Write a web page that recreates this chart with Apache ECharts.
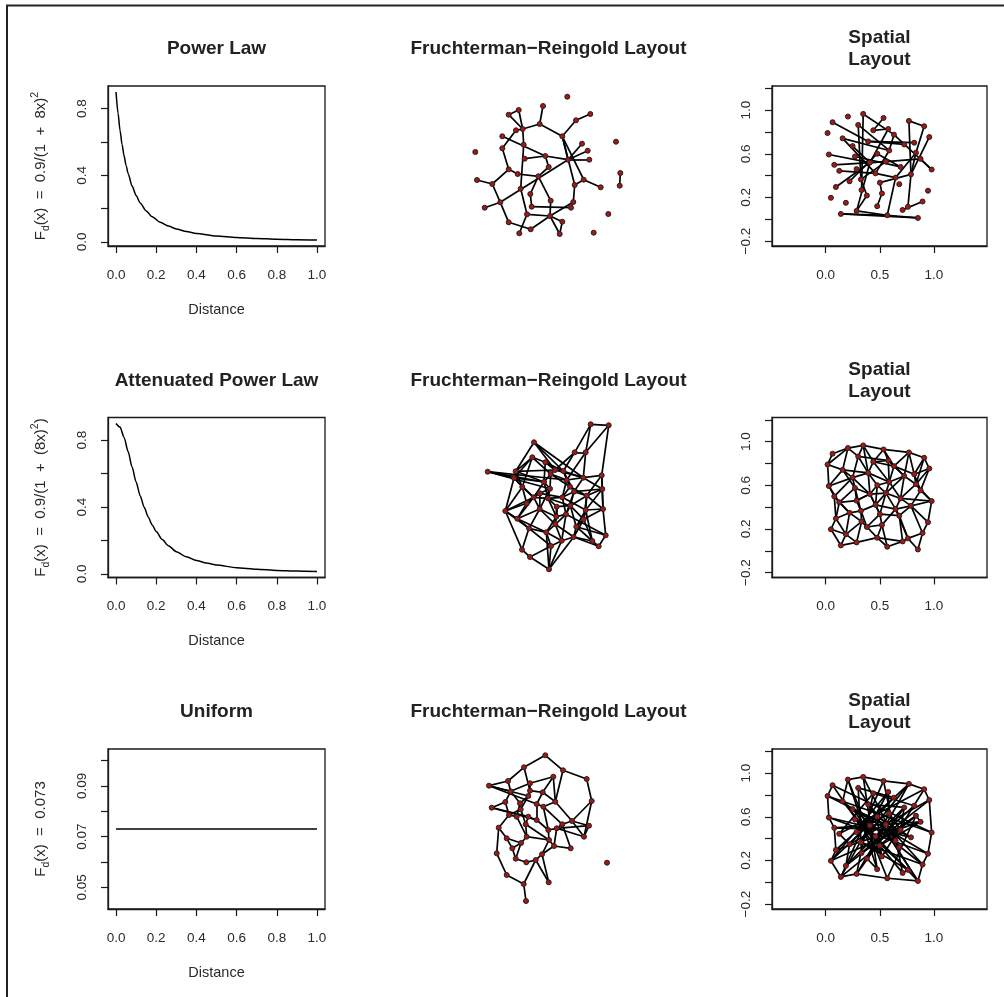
<!DOCTYPE html>
<html>
<head>
<meta charset="utf-8">
<script src="https://cdn.jsdelivr.net/npm/echarts@6/dist/echarts.min.js"></script>
<style>
  html, body { margin: 0; padding: 0; background: #fff; }
  #main { width: 1004px; height: 997px; }
</style>
</head>
<body>
<div id="main"></div>
<script>
// ---- curve panels (left column) ----
var powerX = [0, 0.01, 0.02, 0.03, 0.04, 0.05, 0.06, 0.08, 0.10, 0.12, 0.15, 0.18, 0.22, 0.26, 0.30, 0.35, 0.40, 0.50, 0.60, 0.70, 0.80, 0.90, 1.00];
var powerY = [0.9, 0.772, 0.669, 0.585, 0.517, 0.459, 0.411, 0.335, 0.278, 0.234, 0.186, 0.151, 0.118, 0.095, 0.078, 0.062, 0.051, 0.036, 0.027, 0.021, 0.016, 0.013, 0.011];
var attenX = [0, 0.02, 0.04, 0.06, 0.08, 0.10, 0.12, 0.14, 0.16, 0.18, 0.20, 0.23, 0.26, 0.30, 0.35, 0.40, 0.45, 0.50, 0.60, 0.70, 0.80, 0.90, 1.00];
var attenY = [0.9, 0.878, 0.816, 0.732, 0.639, 0.549, 0.468, 0.399, 0.341, 0.293, 0.253, 0.205, 0.169, 0.133, 0.102, 0.080, 0.065, 0.053, 0.037, 0.028, 0.021, 0.017, 0.014];
var uniformX = [0, 1];
var uniformY = [0.073, 0.073];

var distTicks = [0, 0.2, 0.4, 0.6, 0.8, 1.0];
var probTicks = [0, 0.2, 0.4, 0.6, 0.8];
var probLabels = [0, 0.4, 0.8];
var unifTicks = [0.05, 0.06, 0.07, 0.08, 0.09, 0.10];
var unifLabels = [0.05, 0.07, 0.09];

// ---- Fruchterman-Reingold layouts (middle column), positions in layout units ----
var frNodes1 = [[127.3,36.7],[103,46],[78.7,50],[68.7,54.7],[150.3,54],[136,60.3],[99.7,64],[82.7,69],[76,70.3],[62.3,76.3],
  [122.3,76.3],[176,81.7],[142,83.7],[83.7,84.7],[35.3,92],[62.3,88.3],[147.7,90.7],[105.3,96],[128,99.7],[149.3,99.7],
  [84.7,98.7],[108.7,107],[68.7,109.3],[77.7,114],[98.3,116.3],[180.3,113],[179.7,125.7],[37,120],[52.3,124],[143.7,119.7],
  [134.7,125],[160.7,127.3],[80.7,128.7],[90.3,134],[110.7,140.7],[133.3,142],[60.3,142.3],[44.7,147.7],[91.7,146.7],[131,147.7],
  [87,154.3],[168.3,154],[110,156],[122.3,161.7],[68.7,162.3],[90.7,169.3],[79.3,173.3],[119.7,174],[153.7,172.7]];
var frEdges1 = [[3,4],[4,8],[3,8],[2,7],[7,8],[9,8],[7,11],[6,5],[6,11],[11,19],[11,31],[13,19],[17,19],[20,19],[10,18],
  [8,14],[14,33],[16,23],[16,9],[21,18],[18,19],[18,22],[23,24],[24,25],[25,35],[25,34],[28,29],[29,23],[29,37],[37,38],
  [37,45],[45,46],[33,41],[41,47],[46,43],[43,44],[43,48],[44,48],[43,36],[43,35],[41,43],[34,39],[39,40],[40,36],[36,31],
  [31,30],[30,32],[11,30],[26,27],[37,19],[22,25]];

var frNodes2 = [[150.7,32.8],[168.7,33.8],[94,50.8],[134.7,60.8],[145.7,60.8],[92.3,65.8],[105.3,70.8],[47.7,80.2],[75.7,79.8],[115,78.5],
  [123.3,79.5],[110.7,82.5],[161.7,83.8],[74,86.5],[143.3,86.2],[104,90.5],[126.7,88.5],[82.3,95.5],[162.3,97.5],[134,100.2],
  [110,97.2],[146.7,104.2],[93.7,105.8],[108,106.8],[122.3,105.8],[65.3,119.5],[99.7,117.5],[163,117.5],[130.3,114.2],[145.7,118.5],
  [77.3,127.2],[116.3,125.2],[143.7,127.8],[126,122.8],[89,136.8],[115.3,132.8],[136.3,135.2],[106.3,140.8],[165.7,143.8],[133.7,145.5],
  [121.7,149.2],[152.3,149.5],[158.7,154.8],[111,154.5],[82,158.2],[90,165.5],[109,177.8],[100,101.8],[130,95.2],[116.7,115.2],[86.7,111.8]];
var frEdges2 = [[1,2],[1,4],[4,10],[2,5],[1,5],[3,9],[3,11],[6,7],[6,14],[6,12],[4,5],[5,15],[13,19],[13,15],[19,28],[28,39],
  [39,43],[43,42],[42,37],[43,40],[40,47],[47,46],[46,45],[45,26],[26,31],[26,14],[31,35],[35,45],[35,38],[38,47],[8,16],[8,21],
  [9,10],[9,18],[10,11],[10,12],[11,15],[11,17],[12,16],[12,21],[14,18],[14,16],[15,17],[15,19],[16,21],[16,23],[17,20],[17,49],
  [18,23],[18,51],[19,22],[20,22],[20,25],[20,29],[21,24],[21,48],[22,30],[22,33],[23,27],[23,51],[24,25],[24,32],[25,34],[25,49],
  [27,32],[27,35],[28,30],[29,34],[29,33],[30,33],[30,37],[31,27],[32,36],[33,37],[34,36],[34,41],[36,38],[36,41],[37,40],[38,44],
  [40,41],[41,44],[42,33],[44,47],[48,27],[48,23],[50,24],[50,36],[50,29],[51,31],[26,23],[7,10],[7,16],[7,11],[13,28],[22,28],
  [19,30],[11,20],[9,14],[12,49],[3,15],[6,18],[31,23],
  [8,14],[8,17],[3,10],[4,11],[5,17],[9,16],[10,15],[12,17],[13,22],[14,23],[15,20],[16,24],[17,25],[18,26],[19,20],[20,34],
  [21,27],[22,29],[23,24],[24,29],[25,30],[26,35],[27,36],[28,33],[29,37],[30,42],[31,38],[32,34],[32,38],[33,40],[34,39],
  [35,44],[36,40],[37,39],[38,41],[40,42],[41,47],[44,46],[48,25],[49,22],[50,32],[51,26],[2,13],[6,9]];

var frNodes3 = [[105.3,32.3],[84,44.3],[123,47.3],[146.7,56],[68,58],[90,60.3],[113.3,53.7],[49,62.7],[70.7,68.3],[90,67.7],
  [102.7,69.3],[88.3,73],[151.7,78],[65.3,79],[80,80.3],[96.7,81],[115.3,78.7],[51.7,84.7],[80.7,86.3],[103.3,83.7],
  [69,92],[76.7,93.7],[88.3,93.7],[132,98],[149,102.7],[58.7,104.7],[122.3,101.3],[85.7,101.3],[108.3,107],[116.7,105.3],
  [144,113.7],[66.7,115.3],[86.7,113.7],[109,117],[81,120],[72.3,125.3],[114,123],[130.7,125.3],[56.7,130.3],[102,131.3],
  [75.7,135.7],[86.3,139.3],[95.7,137],[167,139.7],[66.7,152],[83.7,161],[108.7,159.3],[86,178],[96.7,97]];
var frEdges3 = [[1,2],[1,3],[3,4],[4,13],[13,24],[24,25],[25,31],[24,31],[24,27],[2,5],[2,10],[5,8],[5,9],[6,7],[6,10],[7,17],
  [7,11],[8,9],[8,12],[8,16],[9,14],[9,15],[10,11],[10,12],[11,16],[11,17],[12,15],[12,19],[14,18],[14,21],[15,19],[15,22],
  [16,20],[16,49],[17,20],[17,24],[18,23],[18,49],[19,21],[19,28],[20,27],[20,29],[21,26],[21,22],[22,33],[23,28],[23,49],
  [26,32],[26,39],[27,30],[27,38],[28,33],[29,30],[29,34],[30,31],[30,37],[32,35],[32,36],[33,35],[33,34],[34,37],[34,40],
  [35,36],[35,41],[36,41],[37,38],[37,40],[39,45],[40,43],[41,42],[42,43],[43,46],[45,46],[46,48],[47,40],[47,43],[49,29],
  [28,34],[25,30],[3,17],[6,9],[13,31]];

// ---- spatial layout (right column): same node positions in every row ----
var spatialKeys = 'abcdefghijklmnopqrstuvwxyzABCDEFGHIJKLMNOPQRSTUVWXYZ';
var spatialNodes = [[0.206,0.942],[0.347,0.966],[0.535,0.929],[0.064,0.890],[0.301,0.865],[0.769,0.902],[0.910,0.853],[0.018,0.791],
  [0.440,0.816],[0.578,0.828],[0.631,0.776],[0.157,0.742],[0.393,0.714],[0.957,0.754],[0.726,0.686],[0.818,0.702],[0.249,0.671],
  [0.587,0.631],[0.030,0.594],[0.834,0.610],[0.477,0.601],[0.271,0.576],[0.877,0.554],[0.409,0.520],[0.080,0.499],[0.557,0.529],
  [0.692,0.480],[0.979,0.456],[0.126,0.444],[0.461,0.421],[0.788,0.412],[0.646,0.382],[0.221,0.348],[0.501,0.336],[0.326,0.366],
  [0.095,0.296],[0.332,0.268],[0.945,0.262],[0.049,0.197],[0.381,0.218],[0.520,0.237],[0.187,0.151],[0.476,0.120],[0.895,0.163],
  [0.760,0.114],[0.711,0.086],[0.286,0.077],[0.141,0.049],[0.569,0.037],[0.852,0.012],[0.286,0.460],[0.680,0.322]];
var spatialEdges1 = ['bk','bK','ci','eI','er','fg','fE','gt','nE','lr','mp','mo','sx','yz','CD','Jx','Gu','Bw','kB','Ft',
  'HE','ES','RT','Ux','UW','VW','VX','WX','OQ','uA','kr','rD','FW','qx','vA','xj','dm','ij','lD','xz','DF','HO','IN','zw',
  'tE','Iz','NU'];
var spatialEdges2 = ['ad','ah','ae','ab','al','be','bi','bc','bm','ci','cj','ck','cf','ej','em','eq','fg','fk','fp','fo','gn',
  'gp','gt','hd','hl','hs','ij','im','ik','ir','jk','jo','jr','kr','ko','kp','lq','lm','ls','lv','mq','mu','mr','mx','nw','nt',
  'np','oA','ot','or','oz','pw','pt','qv','qs','qx','qy','ru','rz','rA','sy','sC','tw','tB','tA','uz','ux','uD','vx','vY','vC',
  'vI','wB','wE','xz','xD','xY','xH','yC','yJ','yG','zA','zD','zF','zH','AE','AF','AB','BE','BL','CG','CJ','CY','DH','DF','DI',
  'EF','EL','ER','EZ','FZ','FO','FS','GI','GJ','GK','GP','HO','HN','HZ','IK','IN','JM','JP','KN','KU','KP','LR','MP','MV','NQ',
  'NO','OQ','OW','PU','PV','QW','QT','QU','RS','RX','ST','SX','TW','UV','ZS','ZT','Yx','YI'];
var spatialEdges3 = ['aW','bQ','cV','dO','eX','fI','gC','hB','iU','jM','kJ','lT','mR','nG','oP','pK','qL','rN','sE','tV','uH',
  'vS','wy','xF','yA','zU','AM','Bd','Ci','DX','Eh','Fb','Gk','Hq','IR','Jw','Ke','Ls','Mu','Nf','Og','Pn','Qa','Rl','Sv','Tc',
  'Uo','Vj','Wt','Xm','Yr','Zz','ab','dh','hs','sy','yJ','JM','MV','VU','UW','WX','XR','RL','LB','Bn','ng','gf','fc','cb','al',
  'ek','ip','mo','qz','uE','xI','vD','CG','GP','HO','NQ','ST','FA','tw','rA','jr','kf','Ao','Hw','IS','Kt','Ox'];
var spatialXTicks = [0, 0.5, 1.0];
var spatialYTicks = [-0.2, 0, 0.2, 0.4, 0.6, 0.8, 1.0, 1.2];
var spatialYLabels = [-0.2, 0.2, 0.6, 1.0];

// ---- layout ----
var FONT = '"Liberation Sans", Arial, Helvetica, sans-serif';
var INK = '#1a1a1a';
var LABEL = '#2a2a2a';
var rowTop = [86, 417.5, 749];
var BOX_H = 160;

var grids = [], xAxes = [], yAxes = [], series = [], graphics = [];

function fmt(d) {
  return function (v) { return v.toFixed(d).replace('-', '\u2212'); };
}

function xAxisOf(k, min, max, ticks) {
  return { gridIndex: k, type: 'value', min: min, max: max,
    splitLine: { show: false },
    axisLine: { show: true, onZero: false, lineStyle: { color: INK, width: 1.3 } },
    axisTick: { show: true, length: 7, customValues: ticks, lineStyle: { color: INK, width: 1.2 } },
    axisLabel: { customValues: ticks, formatter: fmt(1), margin: 22, fontSize: 13.5, color: LABEL, fontFamily: FONT } };
}

function yAxisOf(k, min, max, ticks, labels, digits) {
  return { gridIndex: k, type: 'value', min: min, max: max,
    splitLine: { show: false },
    axisLine: { show: true, onZero: false, lineStyle: { color: INK, width: 1.3 } },
    axisTick: { show: true, length: 7, customValues: ticks, lineStyle: { color: INK, width: 1.2 } },
    axisLabel: { customValues: labels, formatter: fmt(digits), rotate: 90, margin: 19, fontSize: 13.5, color: LABEL, fontFamily: FONT } };
}

function curvePanel(row, title, yName, yMin, yMax, yTicks, yLabels, yDigits, xs, ys) {
  var k = grids.length;
  grids.push({ left: 108, top: rowTop[row], width: 217, height: BOX_H, show: true,
    borderColor: INK, borderWidth: 1.3, backgroundColor: 'transparent' });
  var xa = xAxisOf(k, -0.04, 1.04, distTicks);
  xa.name = 'Distance';
  xa.nameLocation = 'middle';
  xa.nameGap = 56;
  xa.nameTextStyle = { fontSize: 14.5, color: LABEL, fontFamily: FONT };
  xAxes.push(xa);
  var ya = yAxisOf(k, yMin, yMax, yTicks, yLabels, yDigits);
  ya.name = yName;
  ya.nameLocation = 'middle';
  ya.nameRotate = 90;
  ya.nameGap = 56;
  ya.nameTextStyle = { fontSize: 15, color: LABEL, fontFamily: FONT, lineHeight: 22,
    rich: {
      t: { fontSize: 15, fontFamily: FONT, color: LABEL, lineHeight: 22 },
      sub: { fontSize: 10.5, fontFamily: FONT, color: LABEL, verticalAlign: 'bottom', lineHeight: 12 },
      sup: { fontSize: 10.5, fontFamily: FONT, color: LABEL, verticalAlign: 'top', lineHeight: 12 }
    } };
  yAxes.push(ya);
  series.push({ type: 'line', xAxisIndex: k, yAxisIndex: k, showSymbol: false, silent: true,
    smooth: 0.25, smoothMonotone: 'x',
    lineStyle: { color: '#000', width: 1.5 },
    data: xs.map(function (x, i) { return [x, ys[i]]; }) });
  titleText(216.5, rowTop[row] - 37, title);
}

function frPanel(row, nodes, edges) {
  var k = grids.length;
  grids.push({ left: 440, top: rowTop[row] - 26, width: 200, height: 190 });
  xAxes.push({ gridIndex: k, type: 'value', min: 0, max: 200, show: false });
  yAxes.push({ gridIndex: k, type: 'value', min: 0, max: 190, inverse: true, show: false });
  series.push(networkSeries(k,
    nodes,
    edges.map(function (e) { return { source: e[0] - 1, target: e[1] - 1 }; })));
  titleText(548.5, rowTop[row] - 37, 'Fruchterman\u2212Reingold Layout');
}

function spatialPanel(row, edges) {
  var k = grids.length;
  grids.push({ left: 772, top: rowTop[row], width: 215, height: BOX_H, show: true,
    borderColor: INK, borderWidth: 1.3, backgroundColor: 'transparent' });
  xAxes.push(xAxisOf(k, -0.495, 1.49, spatialXTicks));
  yAxes.push(yAxisOf(k, -0.245, 1.222, spatialYTicks, spatialYLabels, 1));
  series.push(networkSeries(k,
    spatialNodes,
    edges.map(function (s) { return { source: spatialKeys.indexOf(s[0]), target: spatialKeys.indexOf(s[1]) }; })));
  titleText(879.5, rowTop[row] - 37, 'Spatial\nLayout');
}

function networkSeries(k, nodes, links) {
  return {
    type: 'graph', layout: 'none', coordinateSystem: 'cartesian2d',
    xAxisIndex: k, yAxisIndex: k, silent: true, animation: false,
    symbol: 'circle', symbolSize: 5,
    itemStyle: { color: '#a81515', borderColor: '#222', borderWidth: 1 },
    lineStyle: { color: '#000', width: 1.7, opacity: 1, curveness: 0 },
    label: { show: false }, emphasis: { disabled: true },
    data: nodes.map(function (p, i) { return { name: 'n' + i, value: p }; }),
    links: links
  };
}

function titleText(x, y, text) {
  graphics.push({ type: 'text', x: x, y: y, silent: true,
    style: { text: text, fill: '#222', fontFamily: FONT, fontWeight: 'bold', fontSize: 19,
      lineHeight: 22, align: 'center', verticalAlign: 'middle' } });
}

curvePanel(0, 'Power Law', '{t|F}{sub|d}{t|(x)  =  0.9/(1  +  8x)}{sup|2}',
  -0.0244, 0.9356, probTicks, probLabels, 1, powerX, powerY);
curvePanel(1, 'Attenuated Power Law', '{t|F}{sub|d}{t|(x)  =  0.9/(1  +  (8x)}{sup|2}{t|)}',
  -0.0216, 0.9354, probTicks, probLabels, 1, attenX, attenY);
curvePanel(2, 'Uniform', '{t|F}{sub|d}{t|(x)  =  0.073}',
  0.0415, 0.1045, unifTicks, unifLabels, 2, uniformX, uniformY);
frPanel(0, frNodes1, frEdges1);
frPanel(1, frNodes2, frEdges2);
frPanel(2, frNodes3, frEdges3);
spatialPanel(0, spatialEdges1);
spatialPanel(1, spatialEdges2);
spatialPanel(2, spatialEdges3);

// frame lines along the top and left edge
graphics.push({ type: 'line', silent: true, shape: { x1: 6, y1: 5.5, x2: 1004, y2: 5.5 }, style: { stroke: '#222', lineWidth: 2 } });
graphics.push({ type: 'line', silent: true, shape: { x1: 7, y1: 5, x2: 7, y2: 997 }, style: { stroke: '#222', lineWidth: 2 } });

var chart = echarts.init(document.getElementById('main'), null, { renderer: 'canvas' });
chart.setOption({
  backgroundColor: '#fff',
  animation: false,
  grid: grids,
  xAxis: xAxes,
  yAxis: yAxes,
  series: series,
  graphic: graphics
});
</script>
</body>
</html>
